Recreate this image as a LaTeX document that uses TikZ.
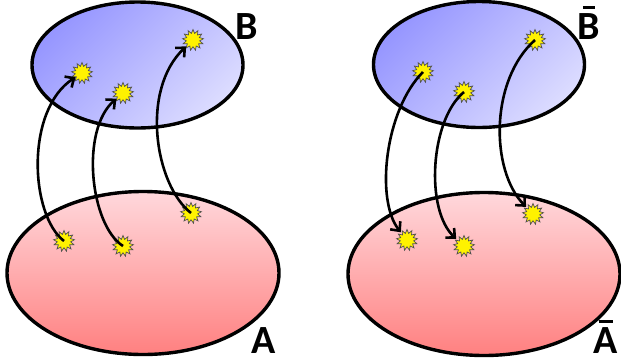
\documentclass[tikz,border=0pt]{standalone}
\usepackage{fontspec}
\setmainfont{Carlito}
\usetikzlibrary{shapes.geometric,arrows.meta}
\definecolor{bdark}{RGB}{150,150,255}
\definecolor{blight}{RGB}{220,220,255}
\definecolor{ptop}{RGB}{255,216,220}
\definecolor{pbot}{RGB}{255,128,128}
\definecolor{staredge}{RGB}{80,80,80}
\newcommand\mcron[1]{\leavevmode\setbox0\hbox{#1}\rlap{\hbox to \wd0{\hss\vrule width 0.55\wd0 height \dimexpr\ht0+7pt\relax depth -\dimexpr\ht0+4.5pt\relax\hss}}\box0}
\tikzset{
  setB/.style={ellipse, draw=black, line width=3.4pt, top color=bdark, bottom color=blight, shading angle=45, minimum width=211pt, minimum height=126pt, inner sep=0pt},
  setA/.style={ellipse, draw=black, line width=3.4pt, top color=ptop, bottom color=pbot, minimum width=272pt, minimum height=163pt, inner sep=0pt},
  spark/.style={star, star points=13, star point ratio=1.55, fill=yellow, draw=staredge, line width=0.7pt, minimum size=21pt, inner sep=0pt},
  lbl/.style={font=\fontsize{40}{40}\selectfont\bfseries, anchor=base, inner sep=0pt},
  link/.style={line width=2.6pt, -{Straight Barb[length=7pt,width=13pt,line width=2.6pt]}}
}
\begin{document}
\begin{tikzpicture}[x=1pt,y=-1pt]
\useasboundingbox (0,0) rectangle (621,362);
% left panel
\node[setB] (BL) at (137.5,65) {};
\node[setA] (AL) at (143,273) {};
\node[lbl] (labB) at (247,39) {B};
\node[lbl] (labA) at (264,353) {A};
\node[spark] (b1) at (82,73) {};
\node[spark] (b2) at (123,93) {};
\node[spark] (b3) at (193,40) {};
\node[spark] (a1) at (64,241) {};
\node[spark] (a2) at (123,246) {};
\node[spark] (a3) at (191,213) {};
\draw[link] (a1.center) .. controls (30,215) and (25,110) .. (b1);
\draw[link] (a2.center) .. controls (90,225) and (80,130) .. (b2);
\draw[link] (a3.center) .. controls (155,185) and (140,90) .. (b3);
% right panel
\node[setB] (BR) at (479,64.5) {};
\node[setA] (AR) at (484,274) {};
\node[lbl] (labBb) at (589,39) {\mcron{B}};
\node[lbl] (labAb) at (606,353) {\mcron{A}};
\node[spark] (c1) at (423,72) {};
\node[spark] (c2) at (464,92) {};
\node[spark] (c3) at (535,40) {};
\node[spark] (d1) at (407,240) {};
\node[spark] (d2) at (464,246) {};
\node[spark] (d3) at (533,214) {};
\draw[link, shorten >=2pt] (c1.center) .. controls (385,110) and (375,200) .. (d1);
\draw[link, shorten >=2pt] (c2.center) .. controls (430,120) and (425,210) .. (d2);
\draw[link, shorten >=2pt] (c3.center) .. controls (490,80) and (490,170) .. (d3);
\end{tikzpicture}
\end{document}
